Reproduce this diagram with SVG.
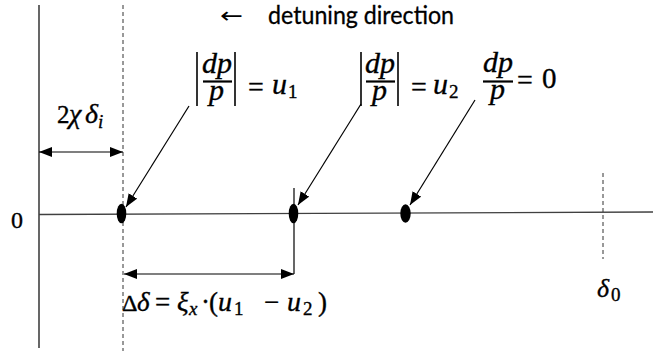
<svg xmlns="http://www.w3.org/2000/svg" width="653" height="351" viewBox="0 0 653 351">
<defs>
<marker id="ah" markerUnits="userSpaceOnUse" markerWidth="14" markerHeight="11" refX="13" refY="5" orient="auto-start-reverse">
<path d="M0,0 L13,5 L0,10 z" fill="#000"/>
</marker>
<style>
.ln{stroke:#000;stroke-width:1.2;fill:none}
.ax{stroke:#404040;stroke-width:1.3;fill:none}
.dash{stroke:#333;stroke-width:1;stroke-dasharray:4,3;fill:none}
.bar{stroke:#000;stroke-width:1.6}
.fb{stroke:#000;stroke-width:2.2}
.arr{stroke:#000;stroke-width:1.2;fill:none;marker-end:url(#ah)}
.dbl{stroke:#000;stroke-width:1.2;fill:none;marker-start:url(#ah);marker-end:url(#ah)}
.f{font-family:"Liberation Serif",serif;fill:#000;stroke:#000;stroke-width:0.35;font-size:28px}
.i{font-style:italic}
.sb{font-size:19px}
.s{font-family:"Lato","Open Sans",sans-serif;fill:#000;stroke:#000;stroke-width:0.3}
</style>
</defs>
<rect width="653" height="351" fill="#fff"/>

<g id="axes">
<line class="ln" x1="39" y1="5" x2="39" y2="348"/>
<line class="dash" x1="123" y1="5" x2="123" y2="351"/>
<line class="ax" x1="39" y1="214.5" x2="653" y2="212"/>
<line class="dash" x1="603" y1="173" x2="603" y2="259"/>
<line class="ln" x1="294" y1="188" x2="294" y2="274"/>
<text class="f" x="11" y="228" style="font-size:24px">0</text>
</g>

<g id="title">
<text x="220" y="23" font-family="DejaVu Sans, sans-serif" font-size="22" textLength="23" lengthAdjust="spacingAndGlyphs">←</text>
<text class="s" x="268" y="24" font-size="24.5" textLength="186" lengthAdjust="spacingAndGlyphs">detuning direction</text>
</g>

<g id="dot1"><ellipse cx="121.5" cy="213.5" rx="4.8" ry="9.8" fill="#000"/></g>
<g id="dot2"><ellipse cx="293.5" cy="213.5" rx="4.8" ry="9.8" fill="#000"/></g>
<g id="dot3"><ellipse cx="405.5" cy="213.5" rx="5.2" ry="9.2" fill="#000"/></g>

<g id="label-u1">
<line class="bar" x1="197" y1="52" x2="197" y2="106"/>
<line class="fb" x1="203" y1="81.5" x2="232" y2="81.5"/>
<line class="bar" x1="235" y1="52" x2="235" y2="106"/>
<text class="f"><tspan class="i" x="202" y="73" style="font-size:30px">dp</tspan><tspan class="i" x="209" y="100" style="font-size:30px">p</tspan><tspan x="248" y="96">=</tspan><tspan class="i" x="272" y="94" style="font-size:30px">u</tspan><tspan class="sb" x="288" y="98">1</tspan></text>
</g>

<g id="label-u2">
<line class="bar" x1="361" y1="52" x2="361" y2="106"/>
<line class="fb" x1="366" y1="81.5" x2="395" y2="81.5"/>
<line class="bar" x1="398" y1="52" x2="398" y2="106"/>
<text class="f"><tspan class="i" x="365" y="73" style="font-size:30px">dp</tspan><tspan class="i" x="372" y="100" style="font-size:30px">p</tspan><tspan x="411" y="96">=</tspan><tspan class="i" x="433" y="94" style="font-size:30px">u</tspan><tspan class="sb" x="449" y="98">2</tspan></text>
</g>

<g id="label-zero">
<line class="fb" x1="483" y1="81.5" x2="513" y2="81.5"/>
<text class="f"><tspan class="i" x="483" y="72" style="font-size:30px">dp</tspan><tspan class="i" x="490" y="99" style="font-size:30px">p</tspan><tspan x="517" y="89">=</tspan><tspan x="542" y="88" style="font-size:29px">0</tspan></text>
</g>

<g id="label-2chi">
<text class="f"><tspan x="57" y="123" style="font-size:25px">2</tspan><tspan class="i" x="69" y="123">χ</tspan><tspan class="i" x="85" y="123">δ</tspan><tspan class="i sb" x="98" y="128">i</tspan></text>
</g>

<g id="label-delta">
<text class="f" y="311"><tspan x="122" y="311" style="font-size:24px">Δ</tspan><tspan class="i" x="137" y="311" style="font-size:27px">δ</tspan><tspan x="155" y="311" style="font-size:27px">=</tspan><tspan class="i" x="177" y="311" style="font-size:27px">ξ</tspan><tspan class="i sb" x="189" y="315">x</tspan><tspan x="201" y="311" style="font-size:27px">·</tspan><tspan x="209" y="311" style="font-size:27px">(</tspan><tspan class="i" x="218" y="311">u</tspan><tspan class="sb" x="234" y="315">1</tspan><tspan x="264" y="311" style="font-size:27px">−</tspan><tspan class="i" x="287" y="311">u</tspan><tspan class="sb" x="303" y="315">2</tspan><tspan x="318" y="311" style="font-size:27px">)</tspan></text>
</g>

<g id="label-delta0">
<text class="f"><tspan class="i" x="597" y="297" style="font-size:26px">δ</tspan><tspan class="sb" x="611" y="301">0</tspan></text>
</g>

<g id="connectors">
<line class="dbl" x1="39" y1="152" x2="123" y2="152"/>
<line class="dbl" x1="124" y1="274" x2="294" y2="274"/>
<line class="arr" x1="189" y1="106" x2="126" y2="207"/>
<line class="arr" x1="361" y1="104" x2="298" y2="205"/>
<line class="arr" x1="475" y1="100" x2="410" y2="205"/>
</g>
</svg>
